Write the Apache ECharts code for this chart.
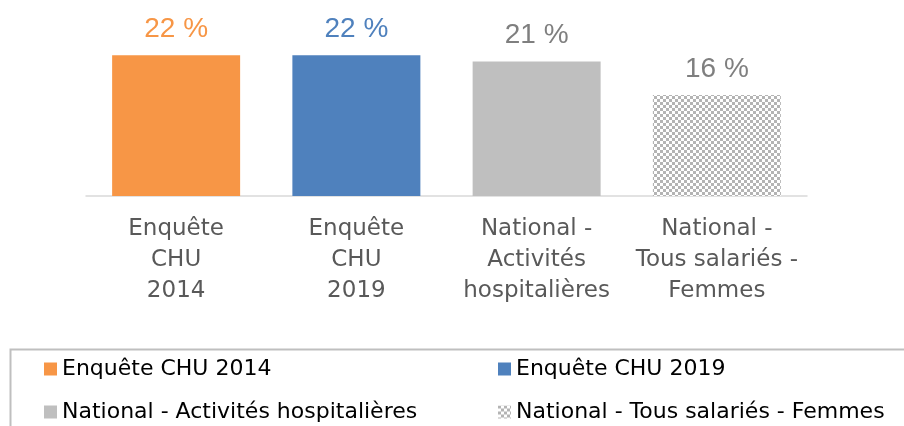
<!DOCTYPE html>
<html>
<head>
<meta charset="utf-8">
<script src="https://cdn.jsdelivr.net/npm/echarts@6.0.0/dist/echarts.min.js"></script>
<style>
  html, body { margin: 0; padding: 0; background: #fff; }
  #chart { width: 904px; height: 426px; }
</style>
</head>
<body>
<div id="chart"></div>
<script>
// data
const categories = [
  'Enquête CHU 2014',
  'Enquête CHU 2019',
  'National - Activités hospitalières',
  'National - Tous salariés - Femmes'
];
const tickLabels = [
  'Enquête\nCHU\n2014',
  'Enquête\nCHU\n2019',
  'National -\nActivités\nhospitalières',
  'National -\nTous salariés -\nFemmes'
];
const values = [22, 22, 21, 15.8];

// checkered fill for the last bar
function makePattern() {
  let c = document.createElement('canvas');
  c.width = 6;
  c.height = 6;
  let ctx = c.getContext('2d');
  ctx.fillStyle = '#ffffff';
  ctx.fillRect(0, 0, 6, 6);
  ctx.fillStyle = '#b4b4b4';
  ctx.fillRect(0, 0, 3, 3);
  ctx.fillRect(3, 3, 3, 3);
  return { image: c, repeat: 'repeat' };
}

const barColors = ['#F79646', '#4F81BD', '#BFBFBF', makePattern()];
const labelColors = ['#F79646', '#4F81BD', '#7F7F7F', '#7F7F7F'];

let myChart = echarts.init(document.getElementById('chart'));

let series = categories.map((name, i) => ({
  name: name,
  type: 'bar',
  stack: 'all',
  barWidth: 128,
  data: values.map((v, j) => (j === i ? v : '-')),
  itemStyle: { color: barColors[i] },
  label: {
    show: true,
    position: 'top',
    distance: 12,
    color: labelColors[i],
    fontFamily: '"Liberation Sans", Arial, sans-serif',
    fontSize: 28,
    formatter: p => Math.round(p.value) + ' %'
  }
}));

let legendText = {
  fontFamily: '"DejaVu Sans", sans-serif',
  fontSize: 22,
  color: '#000',
  lineHeight: 24
};

let option = {
  animation: false,
  grid: { left: 86, right: 97, top: 4, bottom: 230 },
  xAxis: {
    type: 'category',
    data: tickLabels,
    axisTick: { show: false },
    axisLine: { lineStyle: { color: '#d9d9d9', width: 1.5 } },
    axisLabel: {
      margin: 18,
      interval: 0,
      color: '#595959',
      fontFamily: '"DejaVu Sans", sans-serif',
      fontSize: 23,
      lineHeight: 31
    }
  },
  yAxis: {
    type: 'value',
    min: 0,
    max: 30,
    show: false
  },
  legend: [
    {
      data: [categories[0], categories[2]],
      orient: 'vertical',
      left: 44,
      top: 357,
      itemWidth: 13,
      itemHeight: 13,
      itemGap: 19,
      icon: 'rect',
      padding: 0,
      textStyle: legendText
    },
    {
      data: [categories[1], categories[3]],
      orient: 'vertical',
      left: 498,
      top: 357,
      itemWidth: 13,
      itemHeight: 13,
      itemGap: 19,
      icon: 'rect',
      padding: 0,
      textStyle: legendText
    }
  ],
  graphic: [
    {
      type: 'rect',
      left: 8,
      top: 347,
      shape: { width: 930, height: 120 },
      style: { fill: 'none', stroke: '#bfbfbf', lineWidth: 2 },
      silent: true
    }
  ],
  series: series
};

myChart.setOption(option);
</script>
</body>
</html>
